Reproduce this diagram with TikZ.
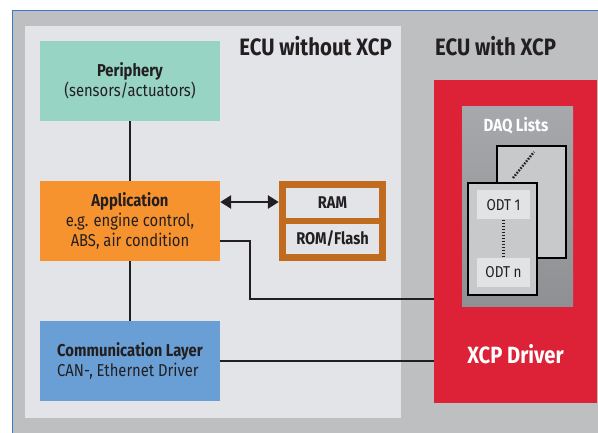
\documentclass[tikz,border=0pt]{standalone}
\usepackage{fontspec}
\setmainfont{Fira Sans}[FakeStretch=0.86]
\usetikzlibrary{arrows.meta}

\definecolor{bggray}{HTML}{BDBFC1}
\definecolor{panel}{HTML}{E2E4E7}
\definecolor{frameblue}{HTML}{3A78C0}
\definecolor{periph}{HTML}{97D4C4}
\definecolor{appl}{HTML}{F7932F}
\definecolor{comm}{HTML}{6A9FD6}
\definecolor{xcpred}{HTML}{DD2238}
\definecolor{daqtop}{HTML}{A6A8AB}
\definecolor{daqbot}{HTML}{8E9094}
\definecolor{odtfill}{HTML}{C7C9CB}
\definecolor{odtlabel}{HTML}{E1E3E5}
\definecolor{memframe}{HTML}{C06B1E}
\definecolor{txt}{HTML}{231F20}

\tikzset{
  block/.style={draw=none, minimum width=180pt, minimum height=80pt, align=center,
    text=txt, font=\fontsize{17.2}{20}\selectfont, inner sep=0pt},
  memcell/.style={fill=panel, minimum width=93pt, minimum height=30pt, inner sep=0pt,
    text=txt, font=\fontsize{17}{19}\selectfont\bfseries},
  odtframe/.style={draw=black, line width=2.2pt, fill=odtfill, inner sep=0pt},
  odtcell/.style={fill=odtlabel, minimum width=53pt, minimum height=29pt, inner sep=0pt,
    text=txt, font=\fontsize{15.7}{18}\selectfont},
  wire/.style={draw=txt, line width=2.6pt},
  dots/.style={draw=txt, line width=2.4pt, dash pattern=on 1.6pt off 1.4pt},
  title/.style={text=txt, font=\fontsize{23.7}{26}\selectfont\bfseries, inner sep=0pt},
}

\begin{document}
\begin{tikzpicture}[x=1pt, y=-1pt]
  \useasboundingbox (0,0) rectangle (598,433);
  % outer frame and backgrounds
  \fill[white] (0,0) rectangle (598,433);
  \fill[bggray] (12,10) rectangle (598,433);
  \draw[frameblue, line width=1.2pt] (12.5,433) -- (12.5,10.5) -- (598,10.5);
  \fill[panel] (25,26) rectangle (401,418);

  \node[title, anchor=east] (t1) at (392,46) {ECU without XCP};
  \node[title, anchor=west] (t2) at (435,46) {ECU with XCP};

  % ECU blocks
  \node[block, fill=periph] (per) at (130,81) {\textbf{Periphery}\\(sensors/actuators)};
  \node[block, fill=appl] (app) at (130,221) {\textbf{Application}\\e.g. engine control,\\ABS, air condition};
  \node[block, fill=comm, align=left] (com) at (130,361) {\textbf{Communication Layer}\\CAN-, Ethernet Driver};

  % memory
  \node[fill=memframe, minimum width=107pt, minimum height=80pt, inner sep=0pt] (mem) at (332.5,221) {};
  \node[memcell] (ram) at (332.5,203) {RAM};
  \node[memcell] (rom) at (332.5,239) {ROM/Flash};

  % XCP driver
  \node[fill=xcpred, minimum width=163pt, minimum height=323pt, inner sep=0pt] (xcp) at (515.5,241.5) {};
  \node[text=white, font=\fontsize{23.5}{26}\selectfont\bfseries, inner sep=0pt] (xcpt) at (515.5,354) {XCP Driver};

  % DAQ lists
  \shade[top color=daqtop, bottom color=daqbot] (462,107) rectangle (573,307);
  \node[text=white, font=\fontsize{17.5}{20}\selectfont\bfseries, inner sep=0pt] (daqt) at (516,126) {DAQ Lists};
  \draw[odtframe] (497,146) rectangle (566,258);
  \coordinate (bA) at (513,178);
  \coordinate (bB) at (534,152);
  \draw[dots] (bA) -- (bB);
  \draw[odtframe] (468,183) rectangle (537,295);
  \node[odtcell] (o1) at (503.5,205) {ODT 1};
  \node[odtcell] (on) at (503.5,272.5) {ODT n};
  \draw[dots] (o1.south) -- (on.north);

  % connections
  \draw[wire] (per.south) -- (app.north);
  \draw[wire] (app.south) -- (com.north);
  \draw[wire, {Triangle[width=13pt,length=11pt]}-{Triangle[width=13pt,length=11pt]}] (app.east |- 0,202) -- (mem.west |- 0,202);
  \draw[wire] (app.east |- 0,241) -- (250,241) -- (250,299) -- (xcp.west |- 0,299);
  \draw[wire] (com.east |- 0,361) -- (xcp.west |- 0,361);
\end{tikzpicture}
\end{document}
